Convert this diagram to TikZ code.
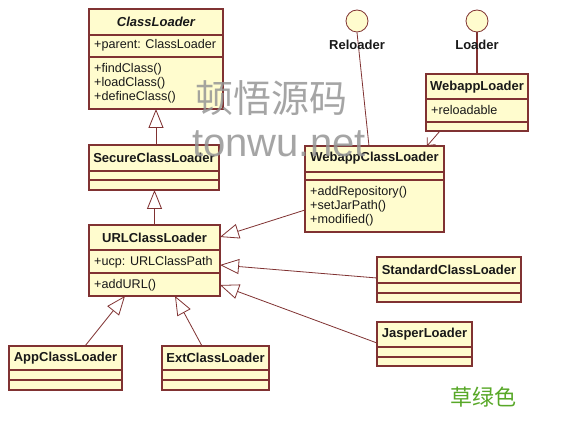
\documentclass[tikz,border=0pt]{standalone}
\usepackage{fontspec}
\setmainfont{Liberation Sans}
\newfontfamily\cjk{Noto Sans CJK SC}
\usetikzlibrary{arrows.meta,calc}
\definecolor{boxfill}{RGB}{255,252,206}
\definecolor{boxline}{RGB}{128,50,50}
\definecolor{wmgray}{RGB}{150,150,150}
\definecolor{grassgreen}{RGB}{88,168,40}
\tikzset{
  x=1pt,y=-1pt,
  clsbox/.style={draw=boxline, fill=boxfill, line width=1.1pt, inner sep=0pt, outer sep=0pt, rectangle},
  clsline/.style={draw=boxline, line width=1.1pt},
  ttl/.style={font=\fontsize{13}{15}\selectfont\bfseries, inner sep=0pt, text=black!90},
  itm/.style={font=\fontsize{12.6}{14}\selectfont, inner sep=0pt, anchor=west, text=black!90},
  conn/.style={draw=boxline, line width=0.8pt},
  inh/.style={conn, -{Triangle[open, length=19pt, width=15pt, fill=white]}},
  assoc/.style={conn, -{Straight Barb[length=6pt, width=11pt]}},
  iface/.style={circle, draw=boxline, fill=boxfill, line width=0.8pt, minimum size=22pt, inner sep=0pt},
}
\newcommand\umlbox[7]{%
  \node[clsbox, anchor=north west, minimum width={#4-#2}, minimum height={#5-#3}] (#1) at (#2,#3) {};
  \draw[clsline] (#2,#6) -- (#4,#6);
  \draw[clsline] (#2,#7) -- (#4,#7);
}
\begin{document}
\begin{tikzpicture}
\useasboundingbox (0,0) rectangle (568,430);
\fill[white] (0,0) rectangle (568,430);

% classes
\umlbox{cl}{89}{9}{223}{109}{35}{57}
\node[ttl, font=\fontsize{13}{15}\selectfont\bfseries\itshape] (clt) at (156,22) {ClassLoader};
\node[itm] (cla) at (94,45) {+parent: ClassLoader};
\node[itm] (clm1) at (94,69) {+findClass()};
\node[itm] (clm2) at (94,83) {+loadClass()};
\node[itm] (clm3) at (94,97) {+defineClass()};

\umlbox{secure}{89}{145}{219}{190}{171}{180}
\node[ttl] (securet) at (154,158) {SecureClassLoader};

\umlbox{url}{89}{225}{220}{296}{250}{273}
\node[ttl] (urlt) at (154.5,238) {URLClassLoader};
\node[itm] (urla) at (94,262) {+ucp: URLClassPath};
\node[itm] (urlm) at (94,285) {+addURL()};

\umlbox{app}{9}{346}{122}{390}{370}{380}
\node[ttl] (appt) at (65.5,358) {AppClassLoader};

\umlbox{ext}{162}{346}{269}{390}{370}{380}
\node[ttl] (extt) at (215.5,358) {ExtClassLoader};

\umlbox{wcl}{305}{146}{444}{232}{172}{180}
\node[ttl] (wclt) at (374.5,158) {WebappClassLoader};
\node[itm] (wclm1) at (310,192) {+addRepository()};
\node[itm] (wclm2) at (310,206) {+setJarPath()};
\node[itm] (wclm3) at (310,220) {+modified()};

\umlbox{wl}{426}{74}{528}{131}{99}{122}
\node[ttl] (wlt) at (477,87) {WebappLoader};
\node[itm] (wla) at (431,110) {+reloadable};

\umlbox{std}{377}{257}{521}{302}{283}{293}
\node[ttl] (stdt) at (449,270) {StandardClassLoader};

\umlbox{jas}{377}{322}{472}{366}{347}{357}
\node[ttl] (jast) at (424.5,334) {JasperLoader};

% interfaces
\node[iface] (rel) at (357,21) {};
\node[iface] (ldr) at (477,21) {};

% connectors
\draw[inh] (secure.north -| clt) -- (cl.south -| clt);
\draw[inh] (url.north) -- (url.north |- secure.south);
\draw[inh] ($(app.north west)+(76,0)$) -- ($(url.south west)+(36,0)$);
\draw[inh] ($(ext.north west)+(40,0)$) -- ($(url.south west)+(86,0)$);
\draw[inh] ($(wcl.north west)+(0,64)$) -- ($(url.north east)+(0,12)$);
\draw[inh] ($(std.north west)+(0,21)$) -- ($(url.north east)+(0,40)$);
\draw[inh] ($(jas.north west)+(0,21)$) -- ($(url.north east)+(0,60)$);
\draw[assoc] ($(wl.south west)+(14,0)$) -- ($(wcl.north east)+(-17,0)$);
\draw[conn] (rel.south) -- ($(wcl.north west)+(64,0)$);
\draw[conn, line width=1.4pt] (ldr.south) -- (wl.north -| ldr);

\node[ttl] (rell) at (357,45) {Reloader};
\node[ttl] (ldrl) at (477,45) {Loader};

% watermark and note
\node[text=wmgray, opacity=0.85, inner sep=0pt, font=\cjk\fontsize{38}{40}\selectfont] (wm1) at (271,98) {顿悟源码};
\node[text=wmgray, opacity=0.85, inner sep=0pt, anchor=base, font=\fontsize{40}{44}\selectfont] (wm2) at (279,157) {tonwu.net};
\node[text=grassgreen, inner sep=0pt, font=\cjk\fontsize{22}{24}\selectfont] (note) at (483,397) {草绿色};
\end{tikzpicture}
\end{document}
